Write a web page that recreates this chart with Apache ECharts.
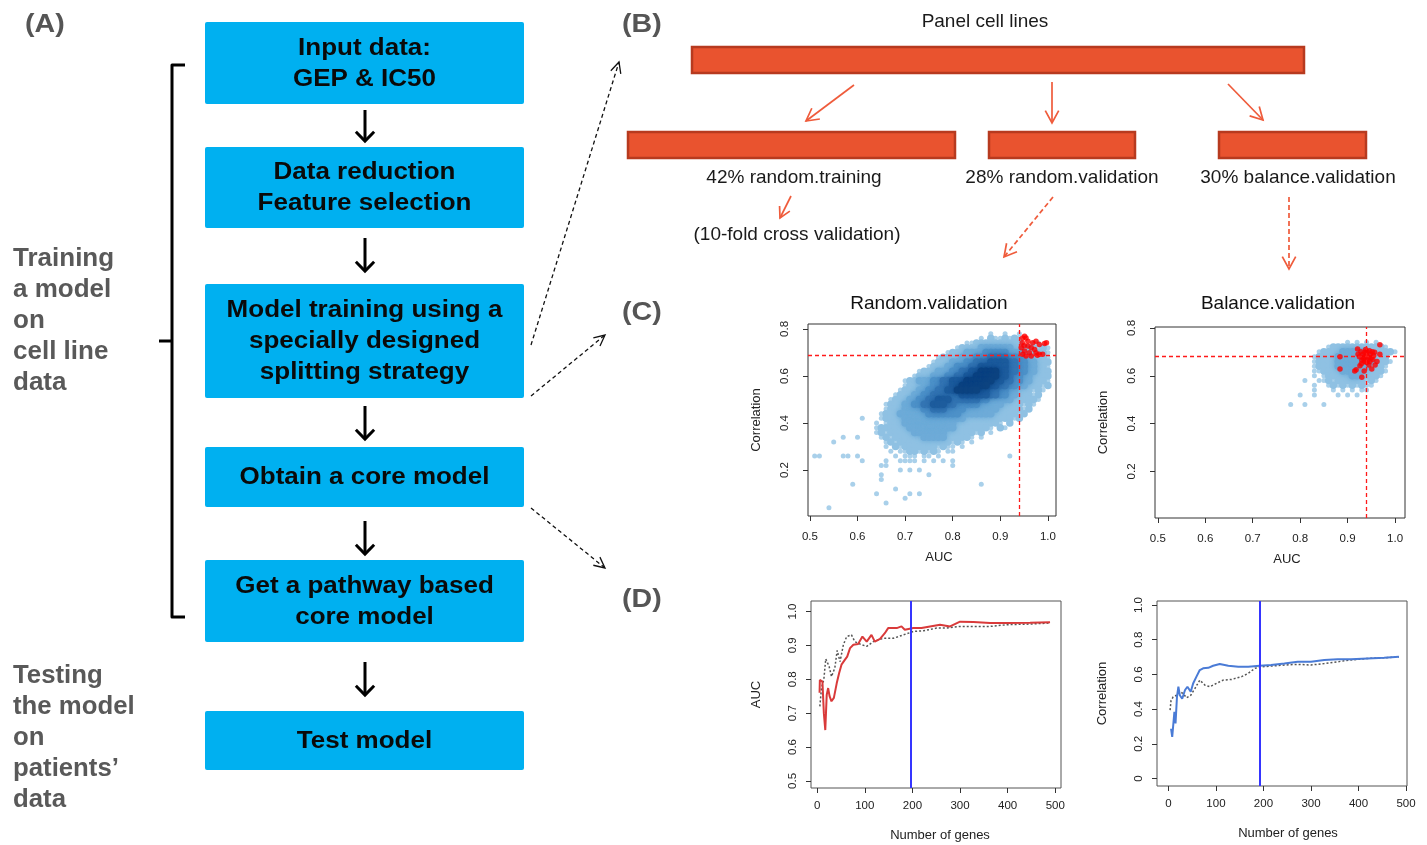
<!DOCTYPE html>
<html><head><meta charset="utf-8">
<script src="https://cdn.jsdelivr.net/npm/echarts@6/dist/echarts.min.js"></script>
<style>html,body{margin:0;padding:0;background:#fff}#c{width:1427px;height:845px}</style>
</head><body><div id="c"></div>
<script>
// ---------------- DATA ----------------
// Density of the random.validation cloud: [correlation, first AUC column (0.50 + col*0.01), density levels per column]
const randomDensityRows = [
  [0.78, 38, "1001001"],
  [0.76, 36, "102112121"],
  [0.74, 33, "1122222222220011"],
  [0.72, 31, "12222333333322222121"],
  [0.70, 29, "1222333344444333222221"],
  [0.68, 27, "122223334445555444332221"],
  [0.66, 26, "1222333445556666554433222"],
  [0.64, 25, "12223344455666666554433221"],
  [0.62, 23, "1222333445566777766554433222"],
  [0.60, 22, "12223334455667777766544332222"],
  [0.58, 20, "1223334455666777777665544332221"],
  [0.56, 20, "1222334455667777776655443322212"],
  [0.54, 19, "1222334455667777766554433222121"],
  [0.52, 18, "1222334455555566666655443322212"],
  [0.50, 17, "12223344556665555554433333222221"],
  [0.48, 16, "12223344556665544444333332222121"],
  [0.46, 16, "1222333344555444433333332222212"],
  [0.44, 15, "1222333333444444433333332222212"],
  [0.42, 11, "1000122223333333333333222222222212"],
  [0.40, 14, "10122233333333333222222222102"],
  [0.38, 14, "1222222333333333322222221021"],
  [0.36, 14, "1212222233333332222221201"],
  [0.34, 7, "100100001212222223333322222101"],
  [0.32, 5, "1"],
  [0.32, 16, "1212222222222212101"],
  [0.30, 16, "10212222222121101"],
  [0.28, 17, "10112212121011"],
  [0.26, 1, "110000110100000001011101101"],
  [0.26, 42, "1"],
  [0.24, 11, "10000100111101010101"],
  [0.22, 15, "11"], [0.22, 30, "1"],
  [0.20, 19, "10101"],
  [0.18, 15, "1"], [0.18, 25, "1"],
  [0.16, 15, "1"],
  [0.14, 9, "1"], [0.14, 36, "1"],
  [0.12, 18, "1"],
  [0.10, 14, "1"], [0.10, 21, "101"],
  [0.08, 20, "1"],
  [0.06, 16, "1"],
  [0.04, 4, "1"]
];
const randomSelected = [
  [0.947,0.762],[0.954,0.762],[0.946,0.741],[0.958,0.727],[0.968,0.741],[0.975,0.748],
  [0.982,0.734],[0.993,0.738],[0.997,0.741],[0.951,0.706],[0.947,0.692],[0.961,0.699],
  [0.972,0.713],[0.982,0.692],[0.989,0.692],[0.954,0.685],[0.965,0.685],[0.975,0.699],
  [0.944,0.720],[0.958,0.748],[0.951,0.769],[0.965,0.720],[0.978,0.688],[0.950,0.730]
];
const balanceDensityRows = [
  [0.74, 40, "1010101"],
  [0.72, 36, "1222222222221"],
  [0.70, 34, "12222333332222221"],
  [0.68, 33, "1222233333333222"],
  [0.66, 33, "12222333333332221"],
  [0.64, 33, "1222233333332221"],
  [0.62, 33, "1122223333322221"],
  [0.60, 33, "101222223322221"],
  [0.58, 31, "1"], [0.58, 34, "1121222222121"],
  [0.56, 33, "1001212121211"],
  [0.54, 33, "1"], [0.54, 37, "10101011"],
  [0.52, 30, "1001000010101"],
  [0.48, 28, "10010001"]
];
const balanceSelected = [
  [0.884,0.680],[0.884,0.628],[0.921,0.712],[0.930,0.594],[0.968,0.730],[0.968,0.690],
  [0.962,0.660],[0.951,0.628],[0.937,0.698],[0.944,0.677],[0.940,0.656],[0.926,0.642],
  [0.915,0.620],[0.918,0.625],[0.935,0.680],[0.948,0.690],[0.952,0.700],[0.930,0.665],
  [0.942,0.665],[0.955,0.685],[0.935,0.620],[0.945,0.645],[0.958,0.645],[0.922,0.690],
  [0.938,0.710],[0.950,0.675],[0.932,0.690],[0.946,0.705],[0.928,0.700],[0.933,0.672],
  [0.940,0.685],[0.947,0.660],[0.953,0.668],[0.941,0.700],[0.936,0.660],[0.957,0.698],
  [0.929,0.650],[0.925,0.680]
];
const cutAUC = 0.945;
const cutCorRandom = 0.685;
const cutCorBalance = 0.68;

// (D) number of genes vs performance
const aucModel = [
  [5,0.76],[5.6,0.798],[11,0.793],[14,0.70],[17,0.65],[20,0.754],[23,0.774],[26,0.75],[30,0.735],
  [35,0.745],[41,0.788],[46,0.818],[51,0.843],[58,0.857],[63,0.867],[69,0.892],[76,0.902],
  [86,0.904],[95,0.926],[104,0.911],[114,0.931],[121,0.911],[132,0.919],[142,0.936],[149,0.951],
  [167,0.951],[177,0.956],[184,0.946],[202,0.951],[219,0.951],[237,0.956],[258,0.961],[279,0.956],
  [300,0.970],[328,0.969],[363,0.966],[398,0.966],[447,0.967],[489,0.968]
];
const aucRef = [
  [5.6,0.72],[9,0.774],[14,0.80],[18,0.86],[21,0.857],[25,0.838],[30,0.808],[37,0.833],
  [42,0.885],[48,0.852],[55,0.902],[62,0.926],[72,0.931],[79,0.911],[93,0.902],[104,0.897],
  [118,0.911],[139,0.921],[160,0.921],[181,0.931],[202,0.941],[223,0.943],[251,0.951],
  [272,0.951],[300,0.956],[328,0.956],[363,0.956],[398,0.961],[447,0.963],[489,0.966]
];
const corModel = [
  [5.6,0.288],[8,0.24],[12.6,0.385],[15,0.317],[18,0.47],[21,0.529],[24,0.48],[29,0.46],
  [35,0.51],[40,0.529],[47,0.50],[52,0.548],[59,0.587],[66,0.625],[73,0.635],[84,0.638],
  [94,0.65],[108,0.66],[126,0.65],[147,0.644],[168,0.644],[192,0.65],[216,0.654],[244,0.663],
  [272,0.673],[300,0.673],[328,0.683],[356,0.687],[384,0.688],[419,0.692],[454,0.696],[485,0.702]
];
const corRef = [
  [3.5,0.394],[5.6,0.45],[10,0.47],[17,0.48],[24,0.50],[31,0.49],[38,0.465],[47,0.48],
  [56,0.52],[66,0.567],[77,0.538],[87,0.529],[101,0.548],[115,0.567],[133,0.571],[154,0.587],
  [168,0.606],[182,0.635],[196,0.644],[216,0.648],[244,0.654],[272,0.658],[300,0.654],
  [328,0.663],[356,0.673],[384,0.683],[419,0.692],[454,0.696],[485,0.70]
];
const chosenGenesAUC = 197;
const chosenGenesCor = 193;

const aucTicks = [0.5, 0.6, 0.7, 0.8, 0.9, 1.0];
const corScatterTicks = [0.2, 0.4, 0.6, 0.8];
const geneTicks = [0, 100, 200, 300, 400, 500];
const aucLineTicks = [0.5, 0.6, 0.7, 0.8, 0.9, 1.0];
const corLineTicks = [0, 0.2, 0.4, 0.6, 0.8, 1.0];

// ---------------- BUILD ----------------
const FONT = '"Liberation Sans", Arial, Helvetica, sans-serif';
const densityColors = ['', '#a9d0ea', '#8fc1e3', '#6eabd8', '#4d91c8', '#3475b3', '#1d5c9d', '#0c4380'];

function cellsOfLevel(rows, level) {
  const out = [];
  rows.forEach(([y, start, s]) => {
    for (let k = 0; k < s.length; k++) {
      if (+s[k] === level) out.push([+(0.5 + (start + k) * 0.01).toFixed(2), y]);
    }
  });
  return out;
}
function densitySeries(rows, axisIdx) {
  const out = [];
  for (let L = 1; L <= 7; L++) {
    const d = cellsOfLevel(rows, L);
    if (!d.length) continue;
    out.push({
      type: 'scatter', xAxisIndex: axisIdx, yAxisIndex: axisIdx, data: d, symbol: 'circle',
      symbolSize: L === 1 ? 5 : 7.5, silent: true,
      itemStyle: { color: densityColors[L], opacity: 1, shadowBlur: L >= 3 ? 5 : 0, shadowColor: densityColors[L] }
    });
  }
  return out;
}

const f1 = v => (v === 0 ? '0' : v.toFixed(1));
const tickLabel = { fontFamily: FONT, fontSize: 11.5, color: '#222' };
const nameStyle = { fontFamily: FONT, fontSize: 13, color: '#222' };

function xAx(grid, min, max, ticks, name, margin, gap, fmt, shift) {
  return {
    gridIndex: grid, type: 'value', min, max,
    axisLine: { show: false, onZero: false }, splitLine: { show: false },
    axisTick: { show: true, length: 5, customValues: ticks, lineStyle: { color: '#333' } },
    axisLabel: Object.assign({ customValues: ticks, margin, formatter: fmt }, tickLabel),
    name, nameLocation: 'middle', nameGap: gap,
    nameTextStyle: Object.assign({ padding: [0, 0, 0, shift || 0] }, nameStyle)
  };
}
function yAx(grid, min, max, ticks, name, margin, gap) {
  return {
    gridIndex: grid, type: 'value', min, max,
    axisLine: { show: false, onZero: false }, splitLine: { show: false },
    axisTick: { show: true, length: 5, customValues: ticks, lineStyle: { color: '#333' } },
    axisLabel: Object.assign({ customValues: ticks, margin, rotate: 90, formatter: f1 }, tickLabel),
    name, nameLocation: 'middle', nameGap: gap, nameTextStyle: nameStyle
  };
}

// graphics (flowchart + panel B)
const g = [];
function txt(x, y, text, font, fill, align, lh, sx) {
  g.push({ type: 'text', x, y, scaleX: sx || 1, style: { text, font, fill, align: align || 'center', verticalAlign: 'middle', lineHeight: lh || undefined } });
}
function arrow(x1, y1, x2, y2, o) {
  const a = Math.atan2(y2 - y1, x2 - x1), h = o.head, w = o.spread;
  g.push({ type: 'line', shape: { x1, y1, x2, y2 }, style: { stroke: o.color, lineWidth: o.width, lineDash: o.dash || null } });
  g.push({ type: 'polyline', shape: { points: [[x2 - h * Math.cos(a - w), y2 - h * Math.sin(a - w)], [x2, y2], [x2 - h * Math.cos(a + w), y2 - h * Math.sin(a + w)]] },
           style: { stroke: o.color, lineWidth: o.hw || o.width, fill: 'none', lineJoin: 'miter' } });
}
function rect(x, y, w, h, fill, stroke, lw, r) {
  g.push({ type: 'rect', shape: { x, y, width: w, height: h, r: r || 0 }, style: { fill, stroke: stroke || null, lineWidth: lw || 0 } });
}

const labelFont = 'bold 26px ' + FONT;
txt(25, 25, '(A)', labelFont, '#555', 'left', 0, 1.1);
txt(622, 25, '(B)', labelFont, '#555', 'left', 0, 1.1);
txt(622, 313, '(C)', labelFont, '#555', 'left', 0, 1.1);
txt(622, 600, '(D)', labelFont, '#555', 'left', 0, 1.1);

txt(13, 321, 'Training\na model\non\ncell line\ndata', 'bold 25px ' + FONT, '#595959', 'left', 31, 1.04);
txt(13, 738, 'Testing\nthe model\non\npatients\u2019\ndata', 'bold 25px ' + FONT, '#595959', 'left', 31, 1.03);

// bracket
g.push({ type: 'polyline', shape: { points: [[185, 65], [172, 65], [172, 617], [185, 617]] }, style: { stroke: '#000', lineWidth: 3, fill: 'none', lineJoin: 'round' } });
g.push({ type: 'line', shape: { x1: 159, y1: 341, x2: 172, y2: 341 }, style: { stroke: '#000', lineWidth: 3 } });

const BOX = '#00b0f0';
const boxFont = 'bold 23px ' + FONT;
const flow = [
  [22, 82, 'Input data:\nGEP & IC50'],
  [147, 81, 'Data reduction\nFeature selection'],
  [284, 114, 'Model training using a\nspecially designed\nsplitting strategy'],
  [447, 60, 'Obtain a core model'],
  [560, 82, 'Get a pathway based\ncore model'],
  [711, 59, 'Test model']
];
flow.forEach(([y, h, t]) => { rect(205, y, 319, h, BOX, null, 0, 2); txt(364.5, y + h / 2 + 1, t, boxFont, '#0a0a0a', 'center', 31, 1.13); });
const blk = { color: '#000', width: 3, head: 13, spread: 0.78 };
[[110, 141], [238, 271], [406, 439], [521, 554], [662, 695]].forEach(([a, b]) => arrow(365, a, 365, b, blk));

const dsh = { color: '#111', width: 1.3, dash: [4, 3], head: 12, spread: 0.45 };
arrow(531, 345, 619, 62, dsh);
arrow(531, 396, 605, 335, dsh);
arrow(531, 508, 605, 568, dsh);

// panel B
const BAR = '#e9532f', BARE = '#b73a1f';
rect(692, 47, 612, 26, BAR, BARE, 2.5);
rect(628, 132, 327, 26, BAR, BARE, 2.5);
rect(989, 132, 146, 26, BAR, BARE, 2.5);
rect(1219, 132, 147, 26, BAR, BARE, 2.5);
const bFont = '19px ' + FONT;
txt(985, 22, 'Panel cell lines', bFont, '#1a1a1a');
txt(794, 178, '42% random.training', bFont, '#1a1a1a');
txt(1062, 178, '28% random.validation', bFont, '#1a1a1a');
txt(1298, 178, '30% balance.validation', bFont, '#1a1a1a');
txt(797, 235, '(10-fold cross validation)', bFont, '#1a1a1a');
const org = { color: '#ef5b3b', width: 1.7, head: 14, spread: 0.5 };
arrow(854, 85, 806, 121, org);
arrow(1052, 82, 1052, 123, org);
arrow(1228, 84, 1263, 120, org);
arrow(791, 196, 780, 218, Object.assign({}, org, { head: 12 }));
const orgD = Object.assign({}, org, { dash: [5, 3] });
arrow(1053, 197, 1004, 257, orgD);
arrow(1289, 197, 1289, 269, orgD);

// scatter titles
txt(929, 304, 'Random.validation', bFont, '#111');
txt(1278, 304, 'Balance.validation', bFont, '#111');

const gridBase = { show: true, borderColor: '#333', borderWidth: 1, backgroundColor: 'transparent', containLabel: false };
const redCut = (x, y) => ({
  silent: true, symbol: 'none', label: { show: false },
  lineStyle: { color: '#ff1a1a', type: [4, 3], width: 1.3 },
  data: [{ xAxis: x }, { yAxis: y }]
});
const blueCut = x => ({
  silent: true, symbol: 'none', label: { show: false },
  lineStyle: { color: '#3535ff', type: 'solid', width: 2 },
  data: [{ xAxis: x }]
});

const option = {
  animation: false,
  backgroundColor: '#fff',
  grid: [
    Object.assign({ left: 808, top: 324, width: 248, height: 192 }, gridBase),
    Object.assign({ left: 1155, top: 327, width: 250, height: 191 }, gridBase),
    Object.assign({ left: 811, top: 601, width: 250, height: 187 }, gridBase, { borderColor: '#555' }),
    Object.assign({ left: 1157, top: 601, width: 250, height: 185 }, gridBase, { borderColor: '#555' })
  ],
  xAxis: [
    xAx(0, 0.496, 1.017, aucTicks, 'AUC', 15, 35, f1, 14),
    xAx(1, 0.494, 1.021, aucTicks, 'AUC', 15, 35, f1, 14),
    xAx(2, -13, 512, geneTicks, 'Number of genes', 12, 41, v => String(v), 8),
    xAx(3, -24, 502, geneTicks, 'Number of genes', 12, 41, v => String(v), 12)
  ],
  yAxis: [
    yAx(0, 0.005, 0.821, corScatterTicks, 'Correlation', 17, 45),
    yAx(1, 0.005, 0.804, corScatterTicks, 'Correlation', 17, 45),
    yAx(2, 0.479, 1.031, aucLineTicks, 'AUC', 12, 48),
    yAx(3, -0.043, 1.023, corLineTicks, 'Correlation', 12, 48)
  ],
  graphic: g,
  series: [].concat(
    densitySeries(randomDensityRows, 0),
    [{ type: 'scatter', xAxisIndex: 0, yAxisIndex: 0, data: randomSelected, symbol: 'circle', symbolSize: 5.5,
       itemStyle: { color: '#ff0000' }, markLine: redCut(cutAUC, cutCorRandom) }],
    densitySeries(balanceDensityRows, 1),
    [{ type: 'scatter', xAxisIndex: 1, yAxisIndex: 1, data: balanceSelected, symbol: 'circle', symbolSize: 5.5,
       itemStyle: { color: '#ff0000' }, markLine: redCut(cutAUC, cutCorBalance) },
     { type: 'line', xAxisIndex: 2, yAxisIndex: 2, data: aucRef, showSymbol: false,
       lineStyle: { color: '#555', width: 1.5, type: [2, 2] } },
     { type: 'line', xAxisIndex: 2, yAxisIndex: 2, data: aucModel, showSymbol: false,
       lineStyle: { color: '#d93a3a', width: 2 }, markLine: blueCut(chosenGenesAUC) },
     { type: 'line', xAxisIndex: 3, yAxisIndex: 3, data: corRef, showSymbol: false,
       lineStyle: { color: '#555', width: 1.5, type: [2, 2] } },
     { type: 'line', xAxisIndex: 3, yAxisIndex: 3, data: corModel, showSymbol: false,
       lineStyle: { color: '#4a7bd6', width: 2 }, markLine: blueCut(chosenGenesCor) }]
  )
};
const chart = echarts.init(document.getElementById('c'), null, { renderer: 'canvas' });
chart.setOption(option);
</script></body></html>
